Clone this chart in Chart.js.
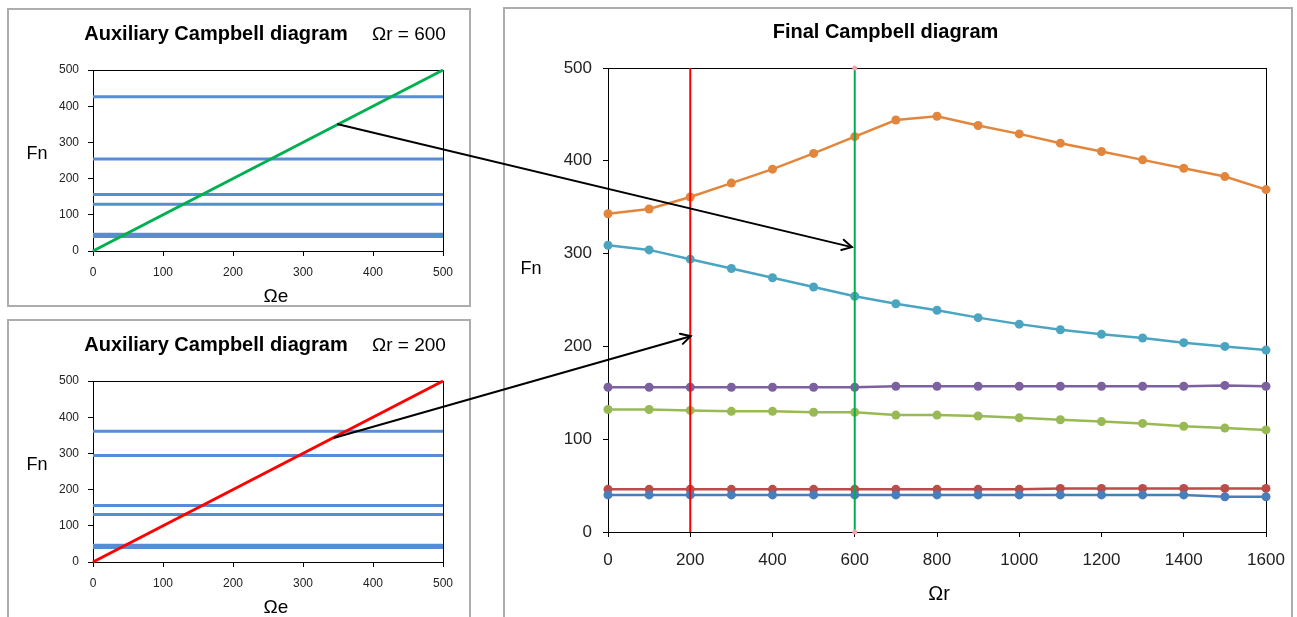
<!DOCTYPE html>
<html>
<head>
<meta charset="utf-8">
<title>Campbell diagrams</title>
<script src="https://cdn.jsdelivr.net/npm/chart.js@4.4.1/dist/chart.umd.min.js"></script>
<style>
  html, body { margin: 0; padding: 0; background: #fff; }
  #stage { position: relative; width: 1297px; height: 617px; overflow: hidden; background: #fff; }
  .frame { position: absolute; box-sizing: border-box; border: 2px solid #ADADAD; background: #fff; }
  canvas { position: absolute; }
  #arrows { left: 0; top: 0; pointer-events: none; }
</style>
</head>
<body>
<div id="stage">
  <div class="frame" style="left:7px;top:8px;width:464px;height:299px;"></div>
  <div class="frame" style="left:7px;top:319px;width:464px;height:320px;"></div>
  <div class="frame" style="left:503px;top:7px;width:790px;height:620px;"></div>
  <canvas id="auxTop" width="460" height="295" style="left:9px;top:10px;"></canvas>
  <canvas id="auxBottom" width="460" height="296" style="left:9px;top:321px;"></canvas>
  <canvas id="final" width="786" height="608" style="left:505px;top:9px;"></canvas>
  <canvas id="arrows" width="1297" height="617"></canvas>
</div>
<script>
// Rotor speed Ωr at which the natural frequencies were computed
const rotorSpeed = [0, 100, 200, 300, 400, 500, 600, 700, 800, 900, 1000, 1100, 1200, 1300, 1400, 1500, 1600];

// Natural frequencies Fn of each mode versus rotor speed
const mode1 = [40, 40, 40, 40, 40, 40, 40, 40, 40, 40, 40, 40, 40, 40, 40, 38, 38];
const mode2 = [46, 46, 46, 46, 46, 46, 46, 46, 46, 46, 46, 47, 47, 47, 47, 47, 47];
const mode3 = [132, 132, 131, 130, 130, 129, 129, 126, 126, 125, 123, 121, 119, 117, 114, 112, 110];
const mode4 = [156, 156, 156, 156, 156, 156, 156, 157, 157, 157, 157, 157, 157, 157, 157, 158, 157];
const mode5 = [309, 304, 294, 284, 274, 264, 254, 246, 239, 231, 224, 218, 213, 209, 204, 200, 196];
const mode6 = [343, 348, 361, 376, 391, 408, 426, 444, 448, 438, 429, 419, 410, 401, 392, 383, 369];

const modeColors = ['#4A7EBB', '#BE4B48', '#98B954', '#7D60A0', '#4BA5C0', '#E3863C'];

// Rotor speeds chosen for the auxiliary diagrams
const selectedSpeeds = [600, 200];
const selectedColors = ['#00B050', '#FF0000'];

// Excitation line Fn = Ωe and axis ranges
const excitationLine = [0, 500];
const fnRange = [0, 500];

// Tick settings
const auxTicks = { min: 0, max: 500, step: 100 };
const finalXTicks = { min: 0, max: 1600, step: 200 };
const finalYTicks = { min: 0, max: 500, step: 100 };

// Arrows linking each auxiliary intersection to the final diagram: [Ωe, Fn] -> [Ωr, Fn]
const arrowTop = { from: [350, 350], to: [593, 307] };
const arrowBottom = { from: [345, 343], to: [201, 211] };

const modes = [mode1, mode2, mode3, mode4, mode5, mode6];
const FONT = "'Liberation Sans', Arial, sans-serif";

// Text captions drawn at fixed canvas positions
const captionPlugin = {
  id: 'captions',
  afterDraw(chart, args, opts) {
    const ctx = chart.ctx;
    (opts.items || []).forEach(it => {
      ctx.save();
      ctx.font = it.font;
      ctx.fillStyle = it.color || '#000';
      ctx.textAlign = it.align || 'center';
      ctx.textBaseline = 'middle';
      ctx.fillText(it.text, it.x, it.y);
      ctx.restore();
    });
  }
};

// Black border round the plot area
const plotFramePlugin = {
  id: 'plotFrame',
  beforeDatasetsDraw(chart) {
    const a = chart.chartArea, ctx = chart.ctx;
    ctx.save();
    ctx.strokeStyle = '#000';
    ctx.lineWidth = 1;
    ctx.strokeRect(Math.round(a.left) + 0.5, Math.round(a.top) + 0.5,
      Math.round(a.right - a.left), Math.round(a.bottom - a.top));
    ctx.restore();
  }
};

function axis(min, max, step, fontSize, pad, fitSize, isX) {
  return {
    type: 'linear',
    min: min, max: max,
    ticks: {
      stepSize: step, color: '#222', font: { family: FONT, size: fontSize },
      padding: pad, maxRotation: 0, callback: v => String(v)
    },
    grid: { drawOnChartArea: false, drawTicks: true, tickLength: 5, color: '#000', lineWidth: 1 },
    border: { color: '#000', width: 1 },
    afterFit: isX
      ? (s => { s.height = fitSize; s.paddingLeft = 0; s.paddingRight = 0; })
      : (s => { s.width = fitSize; s.paddingTop = 0; s.paddingBottom = 0; })
  };
}

function auxChart(canvasId, speed, lineColor, label, xFit) {
  const idx = rotorSpeed.indexOf(speed);
  const datasets = [{
    label: 'Ωe',
    data: excitationLine.map((v, i) => ({ x: v, y: fnRange[i] })),
    borderColor: lineColor, borderWidth: 3, pointRadius: 0, clip: false
  }];
  modes.forEach((m, k) => {
    datasets.push({
      label: 'Mode ' + (k + 1),
      data: excitationLine.map(v => ({ x: v, y: m[idx] })),
      borderColor: '#558ED5', borderWidth: 3, pointRadius: 0, clip: false
    });
  });
  return new Chart(document.getElementById(canvasId), {
    type: 'line',
    data: { datasets },
    plugins: [plotFramePlugin, captionPlugin],
    options: {
      responsive: false, animation: false, devicePixelRatio: 1,
      layout: { padding: { left: 0, top: 60, right: 26, bottom: 0 } },
      scales: {
        x: axis(auxTicks.min, auxTicks.max, auxTicks.step, 12, 9, xFit, true),
        y: axis(auxTicks.min, auxTicks.max, auxTicks.step, 12, 9, 84, false)
      },
      plugins: {
        legend: { display: false }, tooltip: { enabled: false }, title: { display: false },
        captions: { items: [
          { text: 'Auxiliary Campbell diagram', font: 'bold 20px ' + FONT, x: 207, y: 24 },
          { text: label, font: '19px ' + FONT, x: 363, y: 25, align: 'left' },
          { text: 'Fn', font: '18px ' + FONT, x: 28, y: 144 },
          { text: 'Ωe', font: '19px ' + FONT, x: 267, y: 287 }
        ] }
      }
    }
  });
}

const chartTop = auxChart('auxTop', selectedSpeeds[0], selectedColors[0], 'Ωr = ' + selectedSpeeds[0], 54);
const chartBottom = auxChart('auxBottom', selectedSpeeds[1], selectedColors[1], 'Ωr = ' + selectedSpeeds[1], 55);

// Final Campbell diagram: speed markers first so they are painted over the modes
const finalSets = [];
selectedSpeeds.forEach((s, k) => {
  finalSets.push({
    label: 'Ωr = ' + s,
    data: fnRange.map(v => ({ x: s, y: v })),
    borderColor: selectedColors[k], borderWidth: 2,
    pointRadius: k === 0 ? 2.5 : 0, pointBackgroundColor: '#F2A7B0', pointBorderWidth: 0,
    clip: false
  });
});
modes.forEach((m, k) => {
  finalSets.push({
    label: 'Mode ' + (k + 1),
    data: rotorSpeed.map((s, i) => ({ x: s, y: m[i] })),
    borderColor: modeColors[k], backgroundColor: modeColors[k],
    borderWidth: 2.5, pointRadius: 4.5, pointBorderWidth: 0,
    pointBackgroundColor: modeColors[k], clip: false
  });
});

const chartFinal = new Chart(document.getElementById('final'), {
  type: 'line',
  data: { datasets: finalSets },
  plugins: [plotFramePlugin, captionPlugin],
  options: {
    responsive: false, animation: false, devicePixelRatio: 1,
    layout: { padding: { left: 0, top: 0, right: 25, bottom: 0 } },
    scales: {
      x: axis(finalXTicks.min, finalXTicks.max, finalXTicks.step, 17, 13, 85, true),
      y: axis(finalYTicks.min, finalYTicks.max, finalYTicks.step, 17, 11, 103, false)
    },
    plugins: {
      legend: { display: false }, tooltip: { enabled: false },
      title: {
        display: true, text: 'Final Campbell diagram', color: '#000',
        font: { family: FONT, size: 20, weight: 'bold', lineHeight: 1.2 },
        padding: { top: 11, bottom: 24 }
      },
      captions: { items: [
        { text: 'Fn', font: '18px ' + FONT, x: 26, y: 260 },
        { text: 'Ωr', font: '20px ' + FONT, x: 434, y: 585 }
      ] }
    }
  }
});

// Arrows drawn on a page-wide overlay, positioned through each chart's scales
function pagePoint(chart, x, y) {
  const r = chart.canvas.getBoundingClientRect();
  const st = document.getElementById('stage').getBoundingClientRect();
  return [r.left - st.left + chart.scales.x.getPixelForValue(x),
          r.top - st.top + chart.scales.y.getPixelForValue(y)];
}

function drawArrow(ctx, p0, p1) {
  ctx.save();
  ctx.strokeStyle = '#000';
  ctx.lineWidth = 2;
  ctx.lineCap = 'round';
  ctx.beginPath();
  ctx.moveTo(p0[0], p0[1]);
  ctx.lineTo(p1[0], p1[1]);
  ctx.stroke();
  const ang = Math.atan2(p1[1] - p0[1], p1[0] - p0[0]);
  const len = 11, spread = 0.5;
  ctx.beginPath();
  ctx.moveTo(p1[0] - len * Math.cos(ang - spread), p1[1] - len * Math.sin(ang - spread));
  ctx.lineTo(p1[0], p1[1]);
  ctx.lineTo(p1[0] - len * Math.cos(ang + spread), p1[1] - len * Math.sin(ang + spread));
  ctx.stroke();
  ctx.restore();
}

const actx = document.getElementById('arrows').getContext('2d');
drawArrow(actx,
  pagePoint(chartTop, arrowTop.from[0], arrowTop.from[1]),
  pagePoint(chartFinal, arrowTop.to[0], arrowTop.to[1]));
drawArrow(actx,
  pagePoint(chartBottom, arrowBottom.from[0], arrowBottom.from[1]),
  pagePoint(chartFinal, arrowBottom.to[0], arrowBottom.to[1]));
</script>
</body>
</html>
